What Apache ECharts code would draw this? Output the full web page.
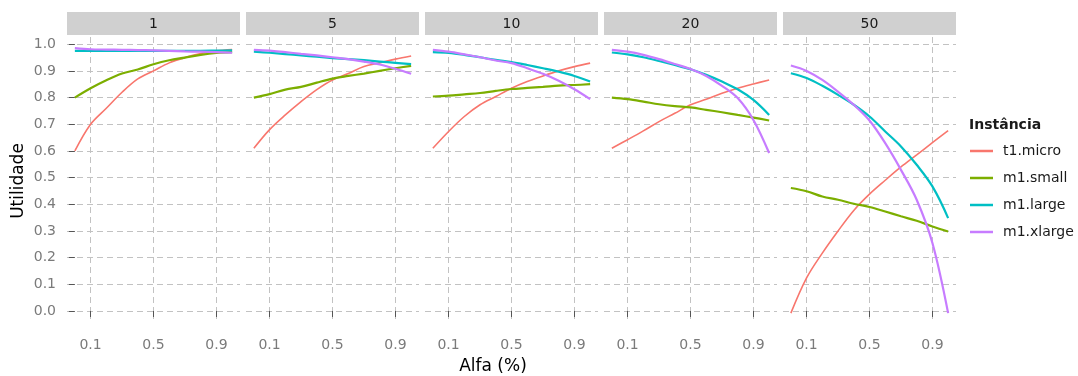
<!DOCTYPE html>
<html><head><meta charset="utf-8">
<script src="https://cdn.jsdelivr.net/npm/echarts@6/dist/echarts.min.js"></script>
<style>html,body{margin:0;padding:0;background:#fff}#c{width:1078px;height:376px}</style>
</head><body><div id="c"></div>
<script>
// ---- data ----
const facets = ['1', '5', '10', '20', '50'];
const seriesNames = ['t1.micro', 'm1.small', 'm1.large', 'm1.xlarge'];
const alfa = [0, 0.1, 0.2, 0.3, 0.4, 0.5, 0.6, 0.7, 0.8, 0.9, 1.0];
const xTicks = [0.1, 0.5, 0.9];
const yTicks = [0, 0.1, 0.2, 0.3, 0.4, 0.5, 0.6, 0.7, 0.8, 0.9, 1.0];

// facet 1
const micro_1  = [0.60, 0.70, 0.76, 0.82, 0.87, 0.90, 0.93, 0.95, 0.965, 0.975, 0.98];
const small_1  = [0.80, 0.835, 0.865, 0.89, 0.905, 0.925, 0.94, 0.95, 0.96, 0.967, 0.97];
const large_1  = [0.975, 0.975, 0.975, 0.975, 0.975, 0.975, 0.975, 0.975, 0.975, 0.976, 0.977];
const xlarge_1 = [0.985, 0.981, 0.98, 0.979, 0.978, 0.977, 0.975, 0.973, 0.972, 0.97, 0.968];
// facet 5
const micro_5  = [0.61, 0.68, 0.735, 0.785, 0.83, 0.866, 0.89, 0.916, 0.93, 0.944, 0.956];
const small_5  = [0.80, 0.813, 0.83, 0.84, 0.856, 0.871, 0.881, 0.89, 0.90, 0.91, 0.919];
const large_5  = [0.972, 0.968, 0.963, 0.958, 0.953, 0.948, 0.944, 0.94, 0.935, 0.93, 0.925];
const xlarge_5 = [0.979, 0.976, 0.97, 0.964, 0.958, 0.951, 0.944, 0.935, 0.924, 0.908, 0.889];
// facet 10
const micro_10  = [0.61, 0.673, 0.729, 0.773, 0.804, 0.835, 0.86, 0.881, 0.90, 0.916, 0.929];
const small_10  = [0.804, 0.807, 0.812, 0.817, 0.825, 0.832, 0.836, 0.84, 0.845, 0.847, 0.85];
const large_10  = [0.97, 0.967, 0.96, 0.951, 0.941, 0.933, 0.922, 0.91, 0.897, 0.881, 0.86];
const xlarge_10 = [0.979, 0.972, 0.962, 0.951, 0.939, 0.929, 0.91, 0.889, 0.863, 0.831, 0.794];
// facet 20
const micro_20  = [0.61, 0.642, 0.675, 0.71, 0.741, 0.773, 0.794, 0.816, 0.835, 0.851, 0.866];
const small_20  = [0.80, 0.794, 0.785, 0.775, 0.768, 0.763, 0.754, 0.745, 0.735, 0.725, 0.714];
const large_20  = [0.969, 0.962, 0.951, 0.937, 0.922, 0.906, 0.885, 0.86, 0.831, 0.791, 0.735];
const xlarge_20 = [0.979, 0.972, 0.96, 0.944, 0.926, 0.907, 0.881, 0.844, 0.798, 0.716, 0.592];
// facet 50
const micro_50  = [-0.008, 0.124, 0.217, 0.30, 0.377, 0.438, 0.49, 0.54, 0.585, 0.631, 0.676];
const small_50  = [0.461, 0.449, 0.429, 0.417, 0.402, 0.39, 0.373, 0.355, 0.338, 0.317, 0.298];
const large_50  = [0.891, 0.873, 0.844, 0.81, 0.773, 0.729, 0.673, 0.617, 0.548, 0.467, 0.348];
const xlarge_50 = [0.92, 0.90, 0.866, 0.822, 0.773, 0.714, 0.629, 0.529, 0.417, 0.255, -0.008];

const facetData = [
  [micro_1, small_1, large_1, xlarge_1],
  [micro_5, small_5, large_5, xlarge_5],
  [micro_10, small_10, large_10, xlarge_10],
  [micro_20, small_20, large_20, xlarge_20],
  [micro_50, small_50, large_50, xlarge_50]
];

// ---- layout / style ----
const colors = ['#F8766D', '#7CAE00', '#00BFC4', '#C77CFF'];
const lineWidths = [1.6, 2.2, 2.2, 2.2];
const panelLefts = [67, 246, 425, 604, 783];
const panelW = 173, panelTop = 37, panelH = 282;
const stripTop = 12, stripH = 23;
const FONT = '"DejaVu Sans", Verdana, sans-serif';
const gridLine = { show: true, lineStyle: { color: '#c2c2c2', width: 1, type: [6, 4] } };

const grids = [], xAxes = [], yAxes = [], series = [], graphics = [];
facets.forEach((f, i) => {
  grids.push({ left: panelLefts[i], top: panelTop, width: panelW, height: panelH });
  xAxes.push({
    type: 'value', gridIndex: i, min: -0.05, max: 1.05,
    axisLine: { show: false },
    axisTick: { show: true, length: 6, customValues: xTicks, lineStyle: { color: '#555' } },
    axisLabel: { show: true, customValues: xTicks, margin: 19, color: '#7a7a7a', fontSize: 14, fontFamily: FONT,
      formatter: v => String(v) },
    splitLine: gridLine
  });
  yAxes.push({
    type: 'value', gridIndex: i, min: -0.03, max: 1.027,
    axisLine: { show: false },
    axisTick: { show: i === 0, length: 6, customValues: yTicks, lineStyle: { color: '#555' } },
    axisLabel: { show: i === 0, customValues: yTicks, margin: 11, color: '#7a7a7a', fontSize: 14, fontFamily: FONT,
      formatter: v => v.toFixed(1) },
    splitLine: gridLine
  });
  facetData[i].forEach((vals, k) => {
    series.push({
      name: seriesNames[k], type: 'line', xAxisIndex: i, yAxisIndex: i,
      data: alfa.map((a, j) => [a, vals[j]]),
      symbol: 'none', smooth: 0.35,
      lineStyle: { color: colors[k], width: lineWidths[k] },
      itemStyle: { color: colors[k] },
      z: 2 + k
    });
  });
  graphics.push({ type: 'rect', shape: { x: panelLefts[i], y: stripTop, width: panelW, height: stripH },
    style: { fill: '#d0d0d0' } });
  graphics.push({ type: 'text', x: panelLefts[i] + panelW / 2, y: stripTop + stripH / 2 + 1,
    style: { text: f, fill: '#1a1a1a', font: '14px ' + FONT, align: 'center', verticalAlign: 'middle' } });
});

graphics.push({ type: 'text', x: 19, y: 181, rotation: Math.PI / 2,
  style: { text: 'Utilidade', fill: '#000', font: '17px ' + FONT, align: 'center', verticalAlign: 'middle' } });
graphics.push({ type: 'text', x: 493, y: 367,
  style: { text: 'Alfa (%)', fill: '#000', font: '17px ' + FONT, align: 'center', verticalAlign: 'middle' } });
graphics.push({ type: 'text', x: 969, y: 125,
  style: { text: 'Instância', fill: '#1a1a1a', font: 'bold 14px ' + FONT, align: 'left', verticalAlign: 'middle' } });

const chart = echarts.init(document.getElementById('c'), null, { renderer: 'canvas' });
chart.setOption({
  animation: false,
  backgroundColor: '#ffffff',
  grid: grids, xAxis: xAxes, yAxis: yAxes, series: series,
  legend: {
    data: seriesNames.map((n, k) => ({ name: n, icon: 'rect', itemStyle: { color: colors[k] } })),
    orient: 'vertical', left: 965, top: 139,
    itemWidth: 23, itemHeight: 2.5, itemGap: 13,
    textStyle: { fontSize: 14, lineHeight: 14, color: '#1a1a1a', fontFamily: FONT, padding: [0, 0, 0, 5] }
  },
  graphic: graphics
});
</script></body></html>
